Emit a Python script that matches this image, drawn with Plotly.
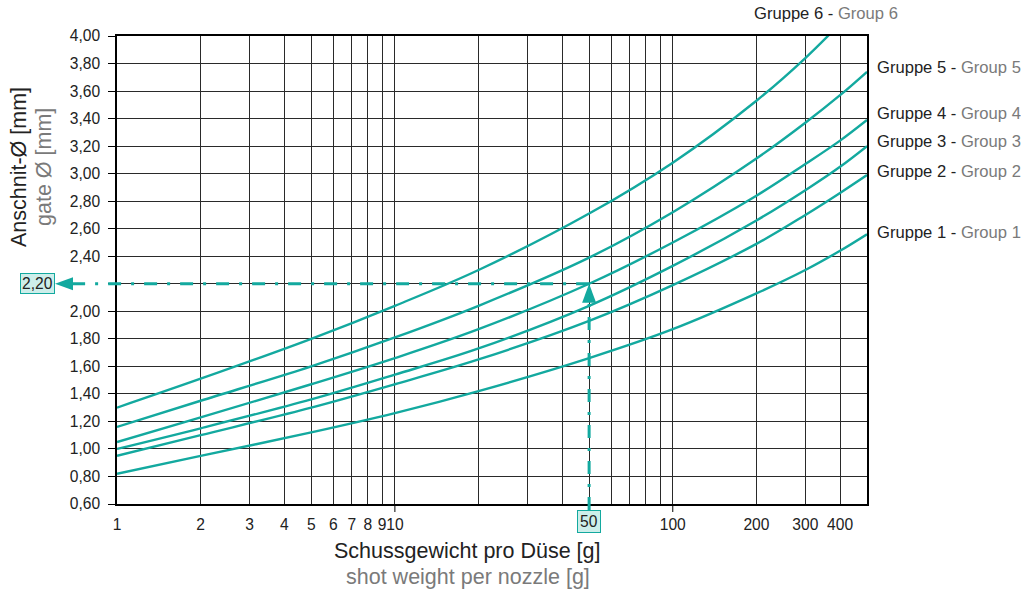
import math
import plotly.graph_objects as go

# ---------------- data ----------------
shot_weight = [1, 2, 5, 10, 20, 50, 100, 200, 300, 400, 500]
group_1 = [0.82, 0.95, 1.12, 1.26, 1.42, 1.66, 1.87, 2.13, 2.30, 2.44, 2.56]
group_2 = [0.95, 1.10, 1.30, 1.47, 1.65, 1.93, 2.19, 2.49, 2.70, 2.86, 2.99]
group_3 = [1.00, 1.15, 1.36, 1.54, 1.73, 2.04, 2.33, 2.66, 2.88, 3.05, 3.20]
group_4 = [1.05, 1.23, 1.47, 1.66, 1.87, 2.20, 2.50, 2.84, 3.07, 3.24, 3.39]
group_5 = [1.16, 1.35, 1.60, 1.81, 2.04, 2.39, 2.72, 3.11, 3.37, 3.57, 3.74]
group_6 = [1.30, 1.51, 1.80, 2.04, 2.30, 2.71, 3.08, 3.53, 3.84, 4.09, None]

group_names_de = ["Gruppe 1", "Gruppe 2", "Gruppe 3", "Gruppe 4", "Gruppe 5", "Gruppe 6"]
group_names_en = ["Group 1", "Group 2", "Group 3", "Group 4", "Group 5", "Group 6"]

x_grid = [1, 2, 3, 4, 5, 6, 7, 8, 9, 10, 20, 30, 40, 50, 60, 70, 80, 90, 100, 200, 300, 400, 500]
x_labeled = [1, 2, 3, 4, 5, 6, 7, 8, 9, 10, 100, 200, 300, 400]
y_ticks = [round(0.6 + 0.2 * i, 2) for i in range(18)]

example_weight = 50
example_diameter = 2.20

X_RANGE = (1, 500)
Y_RANGE = (0.6, 4.0)

# ---------------- styling ----------------
TEAL = "#13a99f"
BOX_FILL = "#cdeeea"
GRID = "#2a2a2a"
GREY_TXT = "#7a7a7a"
FONT = "Liberation Sans, Arial, sans-serif"
FS = 15.6
FS_LABEL = 16.6
PLOT_W, PLOT_H = 750, 468

def xp(v):
    return (math.log10(v) - math.log10(X_RANGE[0])) / (math.log10(X_RANGE[1]) - math.log10(X_RANGE[0]))

def yp(v):
    return (v - Y_RANGE[0]) / (Y_RANGE[1] - Y_RANGE[0])

def dx(px):
    return px / PLOT_W

def dy(px):
    return px / PLOT_H

fig = go.Figure()
for vals in [group_1, group_2, group_3, group_4, group_5, group_6]:
    fig.add_trace(go.Scatter(
        x=shot_weight, y=vals, mode="lines",
        line=dict(color=TEAL, width=2.4, shape="spline", smoothing=1.0),
        showlegend=False, hoverinfo="skip", connectgaps=False,
    ))

fmt = lambda v: f"{v:.2f}".replace(".", ",")

fig.update_layout(
    width=1021, height=592,
    margin=dict(l=117, r=154, t=36, b=88),
    paper_bgcolor="white", plot_bgcolor="white",
    font=dict(family=FONT, size=FS, color="#222"),
    xaxis=dict(
        type="log", range=[math.log10(X_RANGE[0]), math.log10(X_RANGE[1])],
        tickvals=x_grid,
        ticktext=[str(v) if v in x_labeled else "" for v in x_grid],
        tickangle=0, automargin=False,
        showgrid=True, gridcolor=GRID, gridwidth=1,
        showline=True, linecolor="black", linewidth=1.5, mirror=True,
        ticks="", zeroline=False, ticklabelstandoff=6,
        tickfont=dict(size=FS, color="#222"),
    ),
    yaxis=dict(
        range=list(Y_RANGE), automargin=False,
        tickvals=y_ticks,
        ticktext=["" if abs(v - example_diameter) < 1e-9 else fmt(v) for v in y_ticks],
        showgrid=True, gridcolor=GRID, gridwidth=1,
        showline=True, linecolor="black", linewidth=1.5, mirror=True,
        ticks="outside", ticklen=7, tickcolor="black", tickwidth=1,
        zeroline=False, ticklabelstandoff=5,
        tickfont=dict(size=FS, color="#222"),
    ),
)

shapes = []
# tick marks at decades
for v in [10, 100]:
    shapes.append(dict(type="line", xref="paper", yref="paper",
                       x0=xp(v), x1=xp(v), y0=0, y1=-dy(8),
                       line=dict(color="black", width=1)))

dash = "13px,10px,3px,10px"
tx, ty = xp(example_weight), yp(example_diameter)
# horizontal dashed guide
shapes.append(dict(type="line", xref="paper", yref="paper",
                   x0=tx, x1=-dx(117 - 72), y0=ty, y1=ty,
                   line=dict(color=TEAL, width=3, dash=dash)))
# vertical dashed guide
shapes.append(dict(type="line", xref="paper", yref="paper",
                   x0=tx, x1=tx, y0=-dy(6), y1=ty - dy(18),
                   line=dict(color=TEAL, width=3, dash=dash)))
# up arrowhead
shapes.append(dict(type="path", xref="paper", yref="paper",
                   path=f"M {tx},{ty} L {tx - dx(7)},{ty - dy(19)} L {tx + dx(7)},{ty - dy(19)} Z",
                   fillcolor=TEAL, line=dict(color=TEAL, width=0)))
# left arrowhead
lx = -dx(117 - 55)
shapes.append(dict(type="path", xref="paper", yref="paper",
                   path=f"M {lx},{ty} L {lx + dx(18)},{ty + dy(6.5)} L {lx + dx(18)},{ty - dy(6.5)} Z",
                   fillcolor=TEAL, line=dict(color=TEAL, width=0)))
fig.update_layout(shapes=shapes)

ann = []
# boxed example values
ann.append(dict(xref="paper", yref="paper", x=-dx(117 - 55), y=ty,
                xanchor="right", yanchor="middle", showarrow=False,
                text=fmt(example_diameter), font=dict(size=FS, color="#222"),
                bgcolor=BOX_FILL, bordercolor=TEAL, borderwidth=1, borderpad=1))
ann.append(dict(xref="paper", yref="paper", x=tx, y=-dy(6),
                xanchor="center", yanchor="top", showarrow=False,
                text=str(example_weight), font=dict(size=FS, color="#222"),
                bgcolor=BOX_FILL, bordercolor=TEAL, borderwidth=1, borderpad=2))
# axis titles (each line separately)
ann.append(dict(xref="paper", yref="paper", x=-dx(117 - 19), y=dy(504 - 167),
                xanchor="center", yanchor="middle", showarrow=False, textangle=-90,
                text="Anschnit-Ø [mm]", font=dict(size=21.5, color="#222")))
ann.append(dict(xref="paper", yref="paper", x=-dx(117 - 44), y=dy(504 - 167),
                xanchor="center", yanchor="middle", showarrow=False, textangle=-90,
                text="gate Ø [mm]", font=dict(size=21.5, color=GREY_TXT)))
ann.append(dict(xref="paper", yref="paper", x=dx(467 - 117), y=-dy(551 - 504),
                xanchor="center", yanchor="middle", showarrow=False,
                text="Schussgewicht pro Düse [g]", font=dict(size=21.5, color="#222")))
ann.append(dict(xref="paper", yref="paper", x=dx(468 - 117), y=-dy(577 - 504),
                xanchor="center", yanchor="middle", showarrow=False,
                text="shot weight per nozzle [g]", font=dict(size=21.5, color=GREY_TXT)))
# group labels
label_px = [(875, 233), (875, 172), (875, 141), (875, 114), (875, 67), (752, 14)]
for (lxp, lyp), de, en in zip(label_px, group_names_de, group_names_en):
    ann.append(dict(xref="paper", yref="paper", x=dx(lxp - 117), y=dy(504 - lyp),
                    xanchor="left", yanchor="middle", showarrow=False,
                    text=f"{de} - <span style='color:{GREY_TXT}'>{en}</span>",
                    font=dict(size=FS_LABEL, color="#222")))
fig.update_layout(annotations=ann)

# remove the page's default body margin so the figure sits at the window origin
fig.write_html("out.html", config={"displayModeBar": False},
               post_script="document.body.style.margin='0';")
